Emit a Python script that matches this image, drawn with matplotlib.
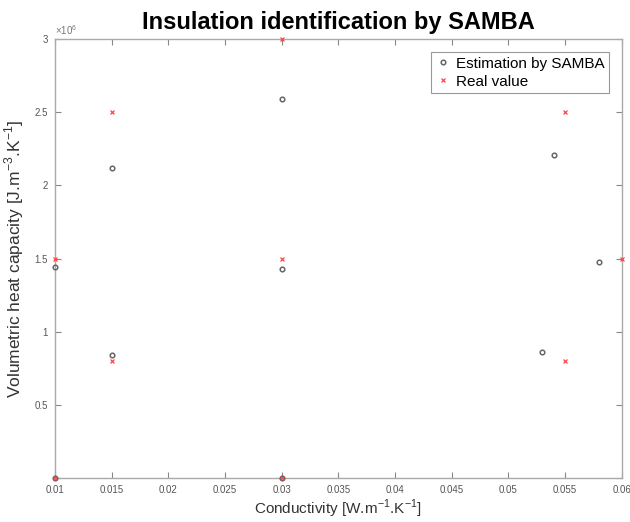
import matplotlib
matplotlib.use('Agg')
import matplotlib.pyplot as plt

# estimation by SAMBA
est_k = [0.01, 0.01, 0.015, 0.015, 0.03, 0.03, 0.03, 0.053, 0.054, 0.058]
est_c = [1.44e6, 0.0, 2.12e6, 0.84e6, 2.59e6, 1.43e6, 0.0, 0.86e6, 2.21e6, 1.48e6]

# real values
real_k = [0.01, 0.01, 0.015, 0.015, 0.03, 0.03, 0.03, 0.055, 0.055, 0.06]
real_c = [1.5e6, 0.0, 2.5e6, 0.8e6, 3.0e6, 1.5e6, 0.0, 2.5e6, 0.8e6, 1.5e6]

xticks = [0.01, 0.015, 0.02, 0.025, 0.03, 0.035, 0.04, 0.045, 0.05, 0.055, 0.06]
xticklabels = ['0.01', '0.015', '0.02', '0.025', '0.03', '0.035', '0.04', '0.045', '0.05', '0.055', '0.06']
yticks = [0, 0.5e6, 1e6, 1.5e6, 2e6, 2.5e6, 3e6]
yticklabels = ['', '0.5', '1', '1.5', '2', '2.5', '3']

plt.rcParams['font.family'] = ['Liberation Sans', 'DejaVu Sans']
plt.rcParams['mathtext.fontset'] = 'custom'
plt.rcParams['mathtext.rm'] = 'Liberation Sans'

fig = plt.figure(figsize=(6.3, 5.22), dpi=100)
ax = fig.add_axes([0.087, 0.084, 0.9, 0.841])

ax.plot(est_k, est_c, 'o', ms=3.3, mfc='none', mec='#666666', mew=1.1,
        label='Estimation by SAMBA', clip_on=False, zorder=3)
ax.plot(real_k, real_c, 'x', ms=3.3, color='#ff4444', mew=0.9,
        label='Real value', clip_on=False, zorder=3)

ax.set_xlim(0.01, 0.06)
ax.set_ylim(0, 3e6)
ax.set_xticks(xticks)
ax.set_xticklabels(xticklabels)
ax.set_yticks(yticks)
ax.set_yticklabels(yticklabels)
ax.text(0.0, 1.004, r'$\times10^6$', transform=ax.transAxes, fontsize=7,
        color='#777777', ha='left', va='bottom')

ax.tick_params(direction='in', length=4, width=0.8, colors='#888888',
               labelcolor='#555555', labelsize=7, top=True, right=True, pad=5)
for s in ax.spines.values():
    s.set_color('#aaaaaa')
    s.set_linewidth(1.0)

ax.set_xlabel(r'Conductivity [W.m$^{\mathrm{-1}}$.K$^{\mathrm{-1}}$]', fontsize=11, color='#333333', labelpad=2)
ax.set_ylabel(r'Volumetric heat capacity [J.m$^{\mathrm{-3}}$.K$^{\mathrm{-1}}$]', fontsize=12.5, color='#333333', labelpad=6)
ax.set_title('Insulation identification by SAMBA', fontsize=17, fontweight='bold', pad=7)

leg = ax.legend(loc='upper right', fontsize=11, fancybox=False, framealpha=1,
                borderaxespad=0.85, handletextpad=0.3, handlelength=1.0,
                borderpad=0.3, labelspacing=0.25)
leg.get_frame().set_edgecolor('#999999')
leg.get_frame().set_linewidth(0.8)

plt.savefig('out.png', dpi=100)
plt.close()
